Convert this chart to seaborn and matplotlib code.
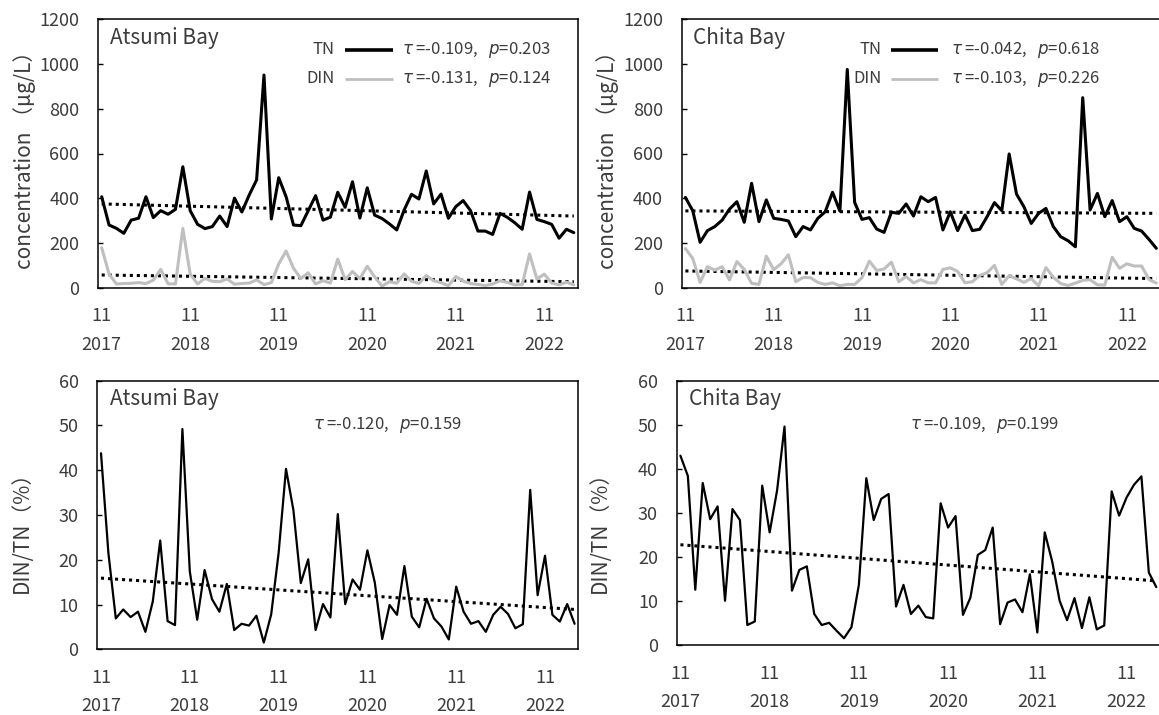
import matplotlib
matplotlib.use("Agg")
import numpy as np
import pandas as pd
import matplotlib.pyplot as plt
import seaborn as sns

# ---------------- data (monthly, Nov 2017 onward) ----------------
months = list(range(65))
tick_month_pos = [0, 12, 24, 36, 48, 60]
tick_labels = ["11\n2017", "11\n2018", "11\n2019", "11\n2020", "11\n2021", "11\n2022"]

atsumi_tn = [407, 281, 266, 244, 303, 311, 407, 314, 345, 329,
             351, 541, 345, 284, 265, 274, 321, 274, 401, 339,
             415, 482, 950, 308, 492, 407, 281, 278, 345, 412,
             303, 316, 427, 360, 474, 312, 447, 325, 310, 286,
             259, 348, 418, 397, 522, 375, 419, 311, 363, 390,
             345, 254, 254, 239, 333, 315, 291, 262, 428, 306,
             296, 284, 222, 262, 247]
atsumi_din = [180, 62, 18, 20, 21, 24, 20, 35, 83, 19,
              18, 266, 62, 18, 43, 30, 28, 40, 17, 20,
              22, 36, 15, 24, 108, 165, 88, 42, 68, 18,
              33, 22, 129, 37, 74, 42, 97, 50, 8, 28,
              21, 63, 30, 20, 56, 32, 24, 10, 51, 31,
              20, 16, 11, 18, 32, 25, 14, 15, 152, 40,
              62, 22, 14, 26, 14]
atsumi_ratio = [43.8, 21.5, 6.9, 8.9, 7.2, 8.4, 3.9, 10.7, 24.3, 6.3,
                5.4, 49.2, 17.4, 6.6, 17.7, 11.2, 8.4, 14.6, 4.3, 5.7,
                5.3, 7.5, 1.5, 7.8, 21.5, 40.3, 31.1, 14.8, 20.1, 4.3,
                10.1, 7.1, 30.2, 10.1, 15.6, 13.3, 22.1, 14.9, 2.3, 9.9,
                7.7, 18.6, 7.3, 4.9, 11.3, 6.9, 5.1, 2.2, 14.0, 8.4,
                5.7, 6.3, 3.9, 7.7, 9.5, 7.9, 4.7, 5.6, 35.6, 12.1,
                20.9, 7.7, 6.2, 10.1, 5.7]

chita_tn = [404, 345, 204, 256, 274, 303, 352, 385, 293, 467,
            296, 393, 311, 306, 299, 229, 274, 259, 311, 340,
            427, 343, 975, 382, 306, 314, 263, 248, 338, 333,
            375, 321, 407, 385, 404, 259, 340, 256, 326, 256,
            262, 318, 381, 345, 598, 419, 363, 288, 333, 355,
            274, 229, 211, 184, 849, 348, 422, 318, 390, 296,
            318, 266, 254, 217, 177]
chita_din = [176, 132, 25, 95, 80, 95, 36, 118, 83, 21,
             16, 142, 82, 108, 148, 28, 47, 46, 25, 16,
             23, 10, 16, 16, 46, 120, 78, 85, 115, 28,
             51, 23, 37, 23, 23, 83, 90, 74, 23, 28,
             56, 68, 101, 16, 55, 41, 25, 42, 10, 91,
             48, 20, 11, 22, 34, 37, 14, 13, 137, 88,
             108, 98, 98, 38, 22]
chita_ratio = [43.0, 38.4, 12.6, 36.8, 28.6, 31.5, 10.1, 30.9, 28.4, 4.6,
               5.4, 36.2, 25.6, 35.1, 49.6, 12.4, 17.1, 17.9, 7.1, 4.6,
               5.1, 3.3, 1.6, 4.1, 13.7, 37.9, 28.4, 33.2, 34.3, 8.8,
               13.7, 7.1, 9.0, 6.4, 6.1, 32.2, 26.7, 29.3, 6.9, 10.8,
               20.5, 21.6, 26.7, 4.8, 9.7, 10.4, 7.5, 16.1, 2.9, 25.6,
               19.0, 10.1, 5.7, 10.7, 3.9, 10.9, 3.6, 4.5, 34.9, 29.4,
               33.5, 36.4, 38.3, 16.5, 13.2]

# linear trend end values (first and last month)
atsumi_tn_trend = [375, 321]
atsumi_din_trend = [58, 28]
atsumi_ratio_trend = [15.9, 8.9]
chita_tn_trend = [344, 333]
chita_din_trend = [76, 42]
chita_ratio_trend = [22.8, 14.6]

atsumi_tn_stat = ["-0.109", "0.203"]
atsumi_din_stat = ["-0.131", "0.124"]
atsumi_ratio_stat = ["-0.120", "0.159"]
chita_tn_stat = ["-0.042", "0.618"]
chita_din_stat = ["-0.103", "0.226"]
chita_ratio_stat = ["-0.109", "0.199"]

bay_names = ["Atsumi Bay", "Chita Bay"]

# ---------------- style ----------------
sns.set_style("white")
plt.rcParams["font.family"] = ["Noto Sans CJK JP", "DejaVu Sans"]
plt.rcParams["mathtext.fontset"] = "dejavusans"
TXT = "#3c3c3c"
GRAY = "#bfbfbf"
DOT = (0, (1, 1.3))

W, H = 1159, 715
fig = plt.figure(figsize=(W / 100, H / 100), dpi=100)


def rect(l, t, r, b):
    return [l / W, 1 - b / H, (r - l) / W, (b - t) / H]


ax_tl = fig.add_axes(rect(98, 19, 577.5, 288))
ax_tr = fig.add_axes(rect(681.7, 19, 1160, 288))
ax_bl = fig.add_axes(rect(97.3, 380.7, 578.3, 649.3))
ax_br = fig.add_axes(rect(676.7, 380.7, 1160, 645.3))


def stat_text(s):
    return r"$\tau$ =" + s[0] + ",   " + r"$p$" + "=" + s[1]


def style_axis(ax, ymax, ystep):
    ax.set_xlim(-0.5, 64.5)
    ax.set_ylim(0, ymax)
    ax.set_yticks(np.arange(0, ymax + 1, ystep))
    ax.set_xticks(tick_month_pos)
    ax.set_xticklabels(tick_labels, linespacing=1.72)
    ax.set_xticks([p - 0.5 for p in tick_month_pos[1:]], minor=True)
    ax.tick_params(axis="x", which="major", length=0, pad=14, labelsize=13, labelcolor=TXT)
    ax.tick_params(axis="x", which="minor", direction="in", length=3.6, width=1, color="black")
    ax.tick_params(axis="y", which="major", direction="in", length=3.6, width=1, color="black",
                   pad=13.5, labelsize=13, labelcolor=TXT, left=True)
    for sp in ax.spines.values():
        sp.set_visible(True)
        sp.set_color("black")
        sp.set_linewidth(1.1)
    ax.set_xlabel("")
    ax.set_ylabel("")


def trend(ax, trend_vals, lw):
    sns.lineplot(x=[months[0], months[-1]], y=trend_vals, ax=ax, color="black",
                 linewidth=lw, linestyle=DOT, dash_capstyle="butt")


def conc_panel(ax, name, tn, din, tn_tr, din_tr, tn_st, din_st, lab_r, line_l, line_r, txt_l):
    df = pd.DataFrame({"month": months, "TN": tn, "DIN": din})
    trend(ax, tn_tr, 2.2)
    trend(ax, din_tr, 2.2)
    sns.lineplot(data=df, x="month", y="DIN", ax=ax, color=GRAY, linewidth=2.2)
    sns.lineplot(data=df, x="month", y="TN", ax=ax, color="black", linewidth=2.2)
    style_axis(ax, 1200, 200)
    ax.text(0.024, 0.929, name, transform=ax.transAxes, fontsize=15, color=TXT,
            ha="left", va="center")
    for yy, lab, col, st in [(0.885, "TN", "black", tn_st), (0.777, "DIN", GRAY, din_st)]:
        ax.text(lab_r, yy, lab, transform=ax.transAxes, fontsize=12, color=TXT,
                ha="right", va="center")
        ax.plot([line_l, line_r], [yy, yy], transform=ax.transAxes, color=col,
                linewidth=2.6 if col == "black" else 2.0, solid_capstyle="butt")
        ax.text(txt_l, yy, stat_text(st), transform=ax.transAxes, fontsize=12,
                color=TXT, ha="left", va="center")


def ratio_panel(ax, name, ratio, tr, st, txt_l):
    df = pd.DataFrame({"month": months, "ratio": ratio})
    trend(ax, tr, 2.2)
    sns.lineplot(data=df, x="month", y="ratio", ax=ax, color="black", linewidth=1.6)
    style_axis(ax, 60, 10)
    ax.text(0.026, 0.932, name, transform=ax.transAxes, fontsize=15, color=TXT,
            ha="left", va="center")
    ax.text(txt_l, 0.834, stat_text(st), transform=ax.transAxes, fontsize=12,
            color=TXT, ha="left", va="center")


conc_panel(ax_tl, bay_names[0], atsumi_tn, atsumi_din, atsumi_tn_trend, atsumi_din_trend,
           atsumi_tn_stat, atsumi_din_stat, 0.493, 0.515, 0.615, 0.633)
conc_panel(ax_tr, bay_names[1], chita_tn, chita_din, chita_tn_trend, chita_din_trend,
           chita_tn_stat, chita_din_stat, 0.418, 0.437, 0.5365, 0.5624)
ratio_panel(ax_bl, bay_names[0], atsumi_ratio, atsumi_ratio_trend, atsumi_ratio_stat, 0.448)
ratio_panel(ax_br, bay_names[1], chita_ratio, chita_ratio_trend, chita_ratio_stat, 0.483)

ylab_conc = "concentration （μg/L）"
ylab_ratio = "DIN/TN（%）"
fig.text(25 / W, 1 - 155 / H, ylab_conc, rotation=90, ha="center", va="center", fontsize=15, color=TXT)
fig.text(608 / W, 1 - 155 / H, ylab_conc, rotation=90, ha="center", va="center", fontsize=15, color=TXT)
fig.text(22 / W, 1 - 527 / H, ylab_ratio, rotation=90, ha="center", va="center", fontsize=15, color=TXT)
fig.text(600 / W, 1 - 527 / H, ylab_ratio, rotation=90, ha="center", va="center", fontsize=15, color=TXT)

fig.savefig("out.png", dpi=100)
